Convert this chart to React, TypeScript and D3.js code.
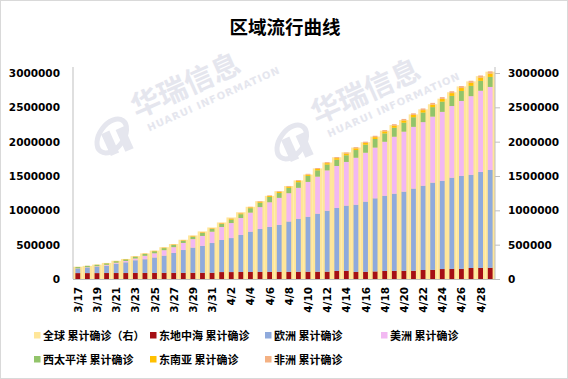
import React from "react";
import * as d3 from "d3";

const dates = [
  "3/17","3/18","3/19","3/20","3/21","3/22","3/23","3/24","3/25","3/26","3/27","3/28","3/29","3/30","3/31",
  "4/1","4/2","4/3","4/4","4/5","4/6","4/7","4/8","4/9","4/10","4/11","4/12","4/13","4/14","4/15",
  "4/16","4/17","4/18","4/19","4/20","4/21","4/22","4/23","4/24","4/25","4/26","4/27","4/28","4/29",
];

// 全球 累计确诊（右）
const globalTotal = [
  179100, 191100, 209800, 234100, 266100, 292100, 332900, 372800, 414200, 462700, 509200, 571700, 634800, 693200, 750900,
  823600, 896500, 972300, 1051600, 1133800, 1211000, 1279700, 1353400, 1436200, 1521300, 1610900, 1696600, 1773100, 1844900, 1914900,
  1991600, 2074500, 2160200, 2241800, 2314600, 2397200, 2471100, 2544800, 2626300, 2719900, 2804800, 2878200, 2954200, 3019000,
];
// 东地中海
const eastMed = [
  86000, 86000, 86000, 87000, 87000, 87000, 88000, 88000, 88000, 89000, 89000, 89000, 90000, 90000, 90000,
  101000, 101000, 102000, 102000, 103000, 103000, 104000, 104000, 105000, 105000, 106000, 106000, 117000, 118000, 103000,
  104000, 110000, 117000, 118000, 119000, 120000, 131000, 133000, 145000, 147000, 148000, 160000, 162000, 163000,
];
// 欧洲
const europe = [
  66000, 80000, 92000, 107000, 135000, 156000, 185000, 200000, 225000, 251000, 290000, 333000, 367000, 392000, 434000,
  467000, 495000, 539000, 587000, 626000, 655000, 684000, 733000, 772000, 801000, 845000, 888000, 917000, 950000, 978000,
  1022000, 1065000, 1095000, 1124000, 1153000, 1197000, 1227000, 1270000, 1285000, 1328000, 1353000, 1357000, 1396000, 1425000,
];
// 美洲
const americas = [
  4000, 6000, 8000, 12000, 15000, 19000, 26000, 50000, 62000, 80000, 85000, 103000, 124000, 145000, 165000,
  189000, 219000, 247000, 278000, 318000, 360000, 394000, 413000, 451000, 508000, 540000, 588000, 612000, 637000, 685000,
  713000, 739000, 787000, 830000, 874000, 899000, 927000, 962000, 1004000, 1044000, 1092000, 1146000, 1184000, 1209000,
];
// 西太平洋
const westPac = [
  18000, 19000, 20000, 21000, 22000, 23000, 25000, 27000, 29000, 30000, 32000, 33000, 36000, 44000, 39000,
  44000, 50000, 56000, 64000, 65000, 76000, 70000, 77000, 82000, 87000, 92000, 85000, 92000, 97000, 112000,
  117000, 125000, 122000, 131000, 131000, 140000, 140000, 138000, 150000, 148000, 146000, 150000, 144000, 146000,
];
// 东南亚
const seAsia = [
  1000, 1000, 2000, 2000, 2000, 3000, 3000, 4000, 4000, 5000, 5000, 6000, 7000, 8000, 8000,
  9000, 10000, 11000, 12000, 13000, 14000, 15000, 16000, 17000, 18000, 19000, 20000, 22000, 23000, 24000,
  25000, 27000, 28000, 30000, 31000, 33000, 34000, 36000, 38000, 40000, 42000, 44000, 46000, 48000,
];
// 非洲
const africa = [
  1000, 1000, 1000, 2000, 2000, 2000, 3000, 3000, 3000, 4000, 4000, 5000, 5000, 6000, 6000,
  7000, 8000, 8000, 9000, 10000, 10000, 11000, 12000, 13000, 13000, 14000, 15000, 16000, 17000, 18000,
  19000, 20000, 21000, 22000, 23000, 24000, 25000, 26000, 27000, 28000, 29000, 30000, 32000, 33000,
];

const yTicks = [0, 500000, 1000000, 1500000, 2000000, 2500000, 3000000];

const seriesNames = ["东地中海 累计确诊", "欧洲 累计确诊", "美洲 累计确诊", "西太平洋 累计确诊", "东南亚 累计确诊", "非洲 累计确诊"];
const seriesColors = ["#A50F15", "#8FAADC", "#F2B8F2", "#92C46A", "#FFC000", "#F4B183"];
const globalName = "全球 累计确诊（右）";
const globalColor = "#FFE699";

const W = 568;
const H = 379;
const M = { left: 73, right: 495, top: 73, bottom: 279 };
const FONT = "'DejaVu Sans', 'Noto Sans CJK SC', sans-serif";
const CJK = "'Noto Sans CJK SC', 'DejaVu Sans', sans-serif";

export default function App() {
  const x = d3.scaleBand<string>().domain(dates).range([M.left, M.right]).paddingInner(0).paddingOuter(0);
  const xs = d3.scaleBand<string>().domain(dates).range([M.left, M.right]).paddingInner(0.5).paddingOuter(0.25);
  const yL = d3.scaleLinear().domain([0, 3000000]).range([M.bottom, M.top]);
  const yR = d3.scaleLinear().domain([0, 3000000]).range([M.bottom, M.top]);

  const rows = dates.map((d, i) => ({
    date: d,
    s0: eastMed[i], s1: europe[i], s2: americas[i], s3: westPac[i], s4: seAsia[i], s5: africa[i],
  }));
  const keys = ["s0", "s1", "s2", "s3", "s4", "s5"];
  const stacked = d3.stack<any>().keys(keys)(rows);

  const legendItems = [
    { name: globalName, color: globalColor, x: 34, y: 335 },
    { name: seriesNames[0], color: seriesColors[0], x: 150, y: 335 },
    { name: seriesNames[1], color: seriesColors[1], x: 265, y: 335 },
    { name: seriesNames[2], color: seriesColors[2], x: 381, y: 335 },
    { name: seriesNames[3], color: seriesColors[3], x: 34, y: 359 },
    { name: seriesNames[4], color: seriesColors[4], x: 150, y: 359 },
    { name: seriesNames[5], color: seriesColors[5], x: 265, y: 359 },
  ];

  const watermarks = [
    { cx: 168, cy: 100 },
    { cx: 348, cy: 106 },
  ];
  const wm = "#E5E6EE";

  return (
    <svg width={W} height={H} style={{ position: "absolute", left: 0, top: 0, background: "#fff" }}>
      <rect x={0.5} y={0.5} width={W - 1} height={H - 1} fill="#fff" stroke="#D9D9D9" />
      <text x={285} y={34} textAnchor="middle" fontFamily={CJK} fontWeight="bold" fontSize={18.5} fill="#000">
        区域流行曲线
      </text>

      {/* watermarks */}
      {watermarks.map((w, i) => (
        <g key={i} transform={`translate(${w.cx},${w.cy}) rotate(-24)`}>
          <ellipse cx={-66} cy={10} rx={19} ry={12} fill="none" stroke={wm} strokeWidth={5} transform="rotate(-30,-66,10)" />
          <rect x={-75} y={4} width={9} height={24} fill={wm} />
          <rect x={-60} y={6} width={9} height={24} fill={wm} />
          <text x={-36} y={4} fontFamily={CJK} fontWeight="bold" fontSize={29} fill={wm}>华瑞信息</text>
          <text x={-30} y={21} fontFamily={FONT} fontWeight="bold" fontSize={10} fill={wm} letterSpacing={1}>HUARUI INFORMATION</text>
        </g>
      ))}

      {/* global bars (right axis) */}
      {globalTotal.map((v, i) => (
        <rect key={"g" + i} x={x(dates[i])!} width={x.bandwidth()} y={yR(v)} height={yR(0) - yR(v)} fill={globalColor} />
      ))}

      {/* stacked region bars */}
      {stacked.map((s, si) => (
        <g key={s.key} fill={seriesColors[si]}>
          {s.map((d, i) => (
            <rect key={i} x={xs(dates[i])!} width={xs.bandwidth()} y={yL(d[1])} height={Math.max(0, yL(d[0]) - yL(d[1]))} />
          ))}
        </g>
      ))}

      {/* axes */}
      <line x1={M.left} x2={M.left} y1={M.top - 6} y2={M.bottom} stroke="#BFBFBF" />
      <line x1={M.right} x2={M.right} y1={M.top - 6} y2={M.bottom} stroke="#BFBFBF" />
      <line x1={M.left} x2={M.right} y1={M.bottom + 0.5} y2={M.bottom + 0.5} stroke="#BFBFBF" />
      {yTicks.map((t) => (
        <g key={"l" + t}>
          <text x={60} y={yL(t) + 4} textAnchor="end" fontFamily={FONT} fontWeight="bold" fontSize={10.5} fill="#000">{t}</text>
        </g>
      ))}
      {yTicks.map((t) => (
        <g key={"r" + t}>
          <line x1={M.right} x2={M.right + 5} y1={yR(t) + 0.5} y2={yR(t) + 0.5} stroke="#BFBFBF" />
          <text x={508} y={yR(t) + 4} textAnchor="start" fontFamily={FONT} fontWeight="bold" fontSize={10.5} fill="#000">{t}</text>
        </g>
      ))}
      {dates.map((d, i) =>
        i % 2 === 0 ? (
          <text
            key={"x" + d}
            transform={`translate(${x(d)! + x.bandwidth() / 2 + 4},${M.bottom + 8}) rotate(-90)`}
            textAnchor="end"
            fontFamily={FONT}
            fontWeight="bold"
            fontSize={10.5}
            fill="#000"
          >
            {d}
          </text>
        ) : null
      )}

      {/* legend */}
      {legendItems.map((it) => (
        <g key={it.name}>
          <rect x={it.x} y={it.y - 3} width={6.5} height={6.5} fill={it.color} />
          <text x={it.x + 9} y={it.y + 4.5} fontFamily={CJK} fontWeight="bold" fontSize={11} fill="#000">{it.name}</text>
        </g>
      ))}
    </svg>
  );
}
